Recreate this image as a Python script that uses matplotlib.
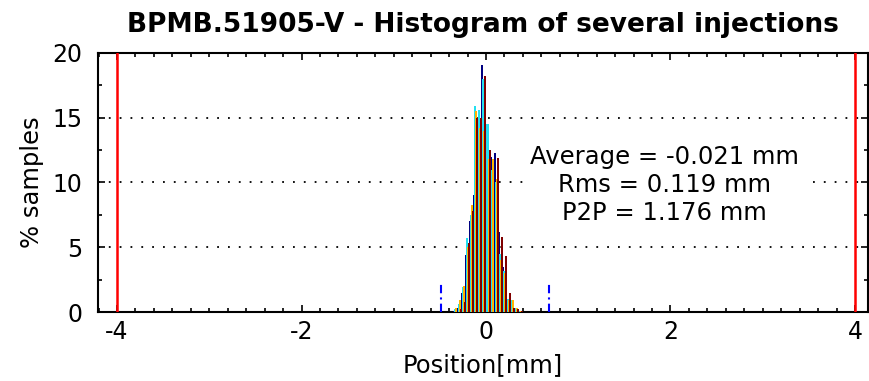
import numpy as np
import matplotlib
matplotlib.use("Agg")
import matplotlib.pyplot as plt
from matplotlib.ticker import MultipleLocator

plt.rcParams["axes.unicode_minus"] = False

# histogram data (% samples per bin), bin centres in mm
bin_centres = [-0.330, -0.286, -0.242, -0.198, -0.154, -0.110, -0.066, -0.022,
               0.022, 0.066, 0.110, 0.154, 0.198, 0.242, 0.286, 0.330, 0.374]
navy_vals = [0.1, 0.3, 1.5, 4.4, 7.0, 9.0, 15.0, 19.1, 13.3, 12.0, 12.3, 6.2, 3.5, 1.0, 0.5, 0.2, 0.1]
cyan_vals = [0.2, 0.6, 1.9, 5.7, 7.5, 15.9, 15.6, 18.0, 14.5, 11.0, 10.0, 4.5, 3.2, 1.0, 0.9, 0.3, 0.1]
gold_vals = [0.3, 0.9, 2.0, 5.0, 8.3, 15.5, 14.2, 14.0, 11.8, 11.8, 10.3, 4.0, 3.0, 0.9, 0.9, 0.3, 0.1]
dred_vals = [0.0, 0.2, 0.8, 5.3, 7.8, 15.0, 15.0, 18.2, 12.5, 0.0, 11.9, 5.8, 4.3, 1.45, 0.3, 0.2, 0.05]

series = [navy_vals, cyan_vals, gold_vals, dred_vals]
colours = ["#000080", "#22E0F0", "#FFB400", "#800000"]

limits = [-4.0, 4.0]           # red limit lines
minmax = [-0.49, 0.686]        # min / max position
stats_text = "Average = -0.021 mm\nRms = 0.119 mm\nP2P = 1.176 mm"

fig = plt.figure(figsize=(8.69, 3.81), dpi=100)
ax = fig.add_axes([0.1128, 0.181, 0.886, 0.680])

# bars, each series shifted a quarter of a bin
binw = 0.044
for k, (vals, col) in enumerate(zip(series, colours)):
    offs = (k - 1.5) * binw / 4
    ax.bar(np.array(bin_centres) + offs, vals, width=binw / 2, color=col,
           linewidth=0, zorder=3)

for x in limits:
    ax.axvline(x, color="red", lw=1.8, zorder=4)
for x in minmax:
    ax.plot([x, x], [0, 2.3], color="blue", lw=1.5, linestyle=(0, (4, 2, 1, 2)), zorder=4)

ax.set_xlim(-4.206, 4.141)
ax.set_ylim(0, 20)
ax.xaxis.set_major_locator(MultipleLocator(2))
ax.xaxis.set_minor_locator(MultipleLocator(0.2))
ax.yaxis.set_major_locator(MultipleLocator(5))
ax.yaxis.set_minor_locator(MultipleLocator(2.5))
ax.tick_params(which="both", direction="in", top=True, right=True, labelsize=17, width=1.2)
ax.tick_params(which="major", length=5)
ax.tick_params(which="minor", length=3)
ax.tick_params(axis="x", pad=6)
ax.tick_params(axis="y", pad=11)

ax.grid(axis="y", color="black", linestyle=(0, (1, 5)), lw=1.3, zorder=1)
for s in ax.spines.values():
    s.set_linewidth(1.5)

ax.text(1.93, 9.8, stats_text, ha="center", va="center", fontsize=17.5,
        linespacing=1.2, zorder=5,
        bbox=dict(facecolor="white", edgecolor="none", pad=4))

ax.set_xlabel("Position[mm]", fontsize=17.5, labelpad=6)
ax.set_ylabel("% samples", fontsize=17.5, labelpad=6)
ax.set_title("BPMB.51905-V - Histogram of several injections", fontsize=19,
             fontweight="bold", pad=15)

fig.savefig("out.png", dpi=100)
